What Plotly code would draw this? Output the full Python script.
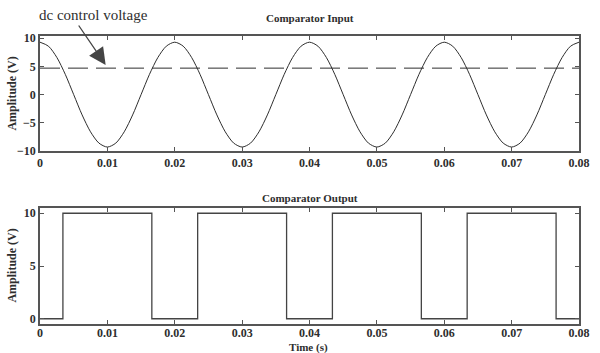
import plotly.graph_objects as go
from plotly.subplots import make_subplots

# Comparator input: sampled carrier voltage (V) every 1.25 ms
t_in = [0.00000, 0.00125, 0.00250, 0.00375, 0.00500, 0.00625, 0.00750, 0.00875,
        0.01000, 0.01125, 0.01250, 0.01375, 0.01500, 0.01625, 0.01750, 0.01875,
        0.02000, 0.02125, 0.02250, 0.02375, 0.02500, 0.02625, 0.02750, 0.02875,
        0.03000, 0.03125, 0.03250, 0.03375, 0.03500, 0.03625, 0.03750, 0.03875,
        0.04000, 0.04125, 0.04250, 0.04375, 0.04500, 0.04625, 0.04750, 0.04875,
        0.05000, 0.05125, 0.05250, 0.05375, 0.05500, 0.05625, 0.05750, 0.05875,
        0.06000, 0.06125, 0.06250, 0.06375, 0.06500, 0.06625, 0.06750, 0.06875,
        0.07000, 0.07125, 0.07250, 0.07375, 0.07500, 0.07625, 0.07750, 0.07875,
        0.08000]
v_in = [9.3, 8.6, 6.6, 3.6, 0.0, -3.6, -6.6, -8.6,
        -9.3, -8.6, -6.6, -3.6, 0.0, 3.6, 6.6, 8.6,
        9.3, 8.6, 6.6, 3.6, 0.0, -3.6, -6.6, -8.6,
        -9.3, -8.6, -6.6, -3.6, 0.0, 3.6, 6.6, 8.6,
        9.3, 8.6, 6.6, 3.6, 0.0, -3.6, -6.6, -8.6,
        -9.3, -8.6, -6.6, -3.6, 0.0, 3.6, 6.6, 8.6,
        9.3, 8.6, 6.6, 3.6, 0.0, -3.6, -6.6, -8.6,
        -9.3, -8.6, -6.6, -3.6, 0.0, 3.6, 6.6, 8.6,
        9.3]

# dc control voltage (V)
t_dc = [0.0, 0.08]
v_dc = [4.7, 4.7]

# Comparator output: switching instants (s) and levels (V)
t_out = [0.0, 0.0034, 0.0166, 0.0234, 0.0366, 0.0434, 0.0566, 0.0634, 0.0766, 0.08]
v_out = [0, 10, 0, 10, 0, 10, 0, 10, 0, 0]

x_ticks = [0, 0.01, 0.02, 0.03, 0.04, 0.05, 0.06, 0.07, 0.08]
x_labels = ["0", "0.01", "0.02", "0.03", "0.04", "0.05", "0.06", "0.07", "0.08"]
y_ticks_in = [-10, -5, 0, 5, 10]
y_ticks_out = [0, 5, 10]

W, H = 600, 353
ML, MR, MT, MB = 40, 10, 36, 29
PW, PH = W - ML - MR, H - MT - MB


def px(x):
    return (x - ML) / PW


def py(y):
    return (H - MB - y) / PH


SERIF = "Liberation Serif, Times New Roman, serif"
INK = "#2e2e2e"
FRAME = "#555555"

fig = make_subplots(rows=2, cols=1, vertical_spacing=0.2)

fig.add_trace(go.Scatter(x=t_in, y=v_in, mode="lines",
                         line=dict(color=INK, width=1, shape="spline", smoothing=0.8)),
              row=1, col=1)
fig.add_trace(go.Scatter(x=t_dc, y=v_dc, mode="lines",
                         line=dict(color=INK, width=1, dash="20px,8px")),
              row=1, col=1)
fig.add_trace(go.Scatter(x=t_out, y=v_out, mode="lines",
                         line=dict(color="#444444", width=1.3, shape="hv")),
              row=2, col=1)

axis_common = dict(showgrid=False, zeroline=False, showline=True, mirror="ticks",
                   linecolor=FRAME, linewidth=1.5, ticks="inside", ticklen=4,
                   tickcolor=FRAME, tickwidth=1,
                   tickfont=dict(family=SERIF, size=12, color=INK, weight="bold"))

fig.update_xaxes(range=[0, 0.08], tickvals=x_ticks, ticktext=x_labels, **axis_common)
fig.update_yaxes(**axis_common)
fig.update_xaxes(ticklabelstandoff=-3, row=2, col=1)
fig.update_yaxes(range=[-10, 10.4], tickvals=y_ticks_in, row=1, col=1)
fig.update_yaxes(range=[-0.5, 10.5], tickvals=y_ticks_out, row=2, col=1)

fig.update_layout(
    xaxis=dict(domain=[0, 1]), xaxis2=dict(domain=[0, 1]),
    yaxis=dict(domain=[py(151), 1]),
    yaxis2=dict(domain=[0, py(208)]),
)

title_font = dict(family=SERIF, size=11, color=INK, weight="bold")
label_font = dict(family=SERIF, size=12, color=INK, weight="bold")
annotations = [
    dict(x=px(315), y=py(18), text="Comparator Input", font=title_font),
    dict(x=px(315), y=py(198), text="Comparator Output", font=title_font),
    dict(x=px(314), y=py(347.5), text="Time (s)", font=title_font),
    dict(x=px(11), y=py(94), text="Amplitude (V)", font=label_font, textangle=-90),
    dict(x=px(11), y=py(266), text="Amplitude (V)", font=label_font, textangle=-90),
    dict(x=px(37), y=py(15), text="dc control voltage", xanchor="left",
         font=dict(family=SERIF, size=15, color=INK)),
]
for a in annotations:
    a.setdefault("xanchor", "center")
    a.update(xref="paper", yref="paper", yanchor="middle", showarrow=False)

# Arrow pointing at the dc control voltage line
annotations.append(dict(
    xref="paper", yref="paper", x=px(107), y=py(65),
    axref="pixel", ayref="pixel", ax=-28, ay=-41,
    text="", showarrow=True, arrowhead=2, arrowsize=2.6, arrowwidth=1.3,
    arrowcolor="#444444"))

fig.update_layout(
    width=W, height=H, showlegend=False,
    margin=dict(l=ML, r=MR, t=MT, b=MB),
    paper_bgcolor="white", plot_bgcolor="white",
    annotations=annotations,
)

fig.write_html("out.html")
